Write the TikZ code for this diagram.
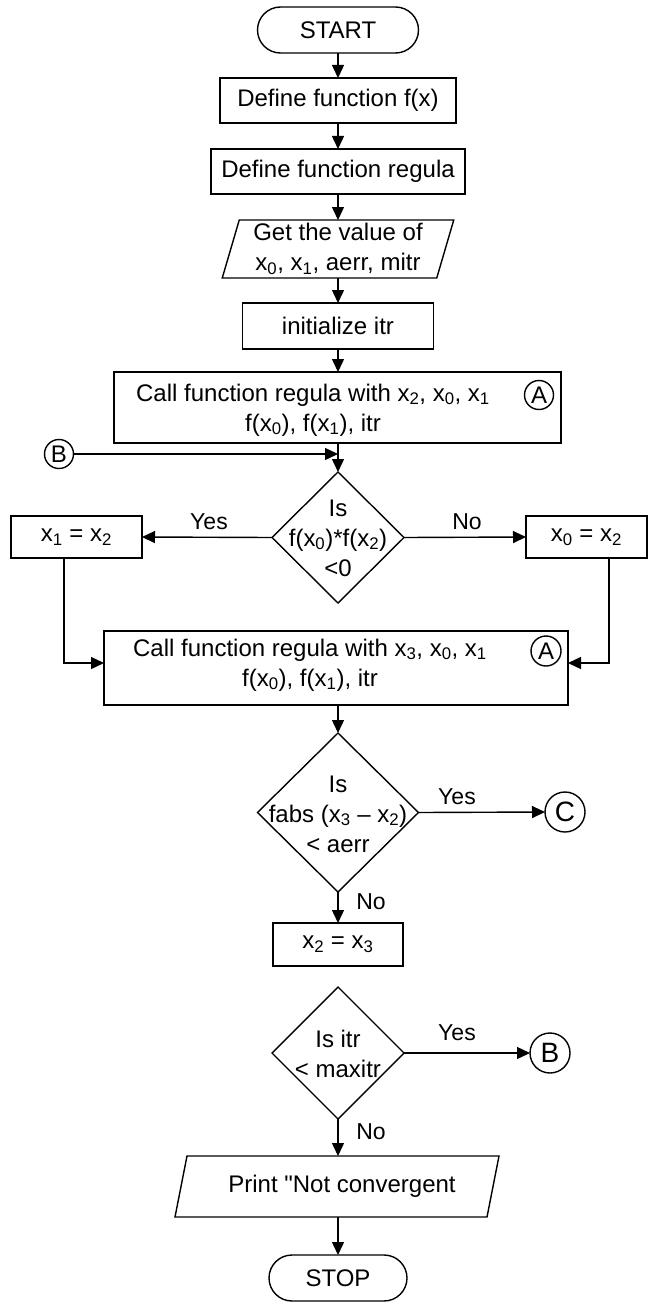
\documentclass[tikz,border=0pt]{standalone}
\usepackage{fontspec}
\setmainfont{Liberation Sans}
\usetikzlibrary{shapes.geometric,arrows.meta,calc}
\begin{document}
\begin{tikzpicture}[x=1pt,y=-1pt,
  every node/.style={font=\fontsize{24}{30}\selectfont, inner sep=0pt, outer sep=0pt},
  line/.style={line width=1.4pt},
  arr/.style={line width=1.4pt,-{Triangle[length=13pt,width=12pt]}},
  term/.style={draw, line width=1.4pt, rectangle, rounded corners=23pt, minimum height=46pt},
  proc/.style={draw, line width=1.4pt, rectangle},
  ghost/.style={rectangle, align=center},
  dia/.style={draw, line width=1.4pt, diamond, aspect=1},
  conn/.style={draw, line width=1.4pt, circle},
  bigconn/.style={conn, font=\fontsize{28}{30}\selectfont},
  txt/.style={align=center},
  lbl/.style={font=\fontsize{23}{26}\selectfont}
]
\useasboundingbox (0,0) rectangle (648,1303);

% main column
\node[term, minimum width=161pt] (start) at (338,30) {START};
\node[proc, minimum width=236pt, minimum height=45pt] (fx) at (338,100.5) {Define function f(x)};
\node[proc, minimum width=254pt, minimum height=45pt] (reg) at (338,171.5) {Define function regula};
\node[ghost, minimum width=214.5pt, minimum height=58pt] (get) at (338,249) {Get the value of\\x\textsubscript{0}, x\textsubscript{1}, aerr, mitr};
\draw[line] ([xshift=8.5pt]get.north west) -- ([xshift=8.5pt]get.north east) -- ([xshift=-8.5pt]get.south east) -- ([xshift=-8.5pt]get.south west) -- cycle;
\node[proc, minimum width=191pt, minimum height=46pt] (init) at (338,326) {initialize itr};

\node[proc, minimum width=447pt, minimum height=71pt] (call1) at (337.5,407.5) {};
\node[txt] (call1t) at (313,410) {Call function regula with x\textsubscript{2}, x\textsubscript{0}, x\textsubscript{1}\\f(x\textsubscript{0}), f(x\textsubscript{1}), itr};
\node[conn, minimum size=29pt] (A1) at (539,395) {A};

\node[conn, minimum size=29pt] (B1) at (59,454) {B};

\node[dia, minimum width=132pt, minimum height=131pt] (d1) at (338,537.5) {};
\node[txt] (d1t) at (338,538) {Is\\f(x\textsubscript{0})*f(x\textsubscript{2})\\<0};

\node[proc, minimum width=131pt, minimum height=42pt] (s1) at (76.5,537) {x\textsubscript{1} = x\textsubscript{2}};
\node[proc, minimum width=121pt, minimum height=42pt] (s0) at (586.5,537) {x\textsubscript{0} = x\textsubscript{2}};
\node[lbl] (yes1) at (209,522) {Yes};
\node[lbl] (no1) at (467,522) {No};

\node[proc, minimum width=464pt, minimum height=74pt] (call2) at (336,668) {};
\node[txt] (call2t) at (310,665) {Call function regula with x\textsubscript{3}, x\textsubscript{0}, x\textsubscript{1}\\f(x\textsubscript{0}), f(x\textsubscript{1}), itr};
\node[conn, minimum size=30pt] (A2) at (546,651) {A};

\node[dia, minimum width=161pt, minimum height=159pt] (d2) at (338,812.5) {};
\node[txt] (d2t) at (338,814) {Is\\fabs (x\textsubscript{3} – x\textsubscript{2})\\< aerr};
\node[lbl] (yes2) at (457,797) {Yes};
\node[bigconn, minimum size=40pt] (C) at (565,812) {C};
\node[lbl] (no2) at (371,902) {No};

\node[proc, minimum width=130pt, minimum height=43pt] (s2) at (338,944.5) {x\textsubscript{2} = x\textsubscript{3}};

\node[dia, minimum width=132pt, minimum height=132pt] (d3) at (338,1053) {};
\node[txt] (d3t) at (338,1054) {Is itr\\< maxitr};
\node[lbl] (yes3) at (457,1033) {Yes};
\node[bigconn, minimum size=40pt] (B2) at (550,1053) {B};
\node[lbl] (no3) at (371,1132) {No};

\node[ghost, minimum width=312pt, minimum height=61pt] (prt) at (337,1186.5) {};
\draw[line] ([xshift=6pt]prt.north west) -- ([xshift=6pt]prt.north east) -- ([xshift=-6pt]prt.south east) -- ([xshift=-6pt]prt.south west) -- cycle;
\node[txt] (prtt) at (342,1186) {Print \textquotedbl Not convergent};

\node[term, minimum width=138pt] (stop) at (338,1278) {STOP};

% connectors
\draw[arr] (start.south) -- (fx.north);
\draw[arr] (fx.south) -- (reg.north);
\draw[arr] (reg.south) -- (get.north);
\draw[arr] (get.south) -- (init.north);
\draw[arr] (init.south) -- (init.south |- call1.north);
\draw[arr] (call1.south -| d1.north) -- (d1.north);
\draw[arr] (B1.east) -- (B1.east -| d1.north);
\draw[arr] (d1.west) -- (s1.east);
\draw[arr] (d1.east) -- (s0.west);
\draw[arr] ([xshift=-12.5pt]s1.south) |- ([yshift=5pt]call2.west);
\draw[arr] ([xshift=22.5pt]s0.south) |- ([yshift=5pt]call2.east);
\draw[arr] (call2.south -| d2.north) -- (d2.north);
\draw[arr] (d2.east) -- (C.west);
\draw[arr] (d2.south) -- (s2.north);
\draw[arr] (d3.east) -- (B2.west);
\draw[arr] (d3.south) -- (d3.south |- prt.north);
\draw[arr] (prt.south -| stop.north) -- (stop.north);
\end{tikzpicture}
\end{document}
